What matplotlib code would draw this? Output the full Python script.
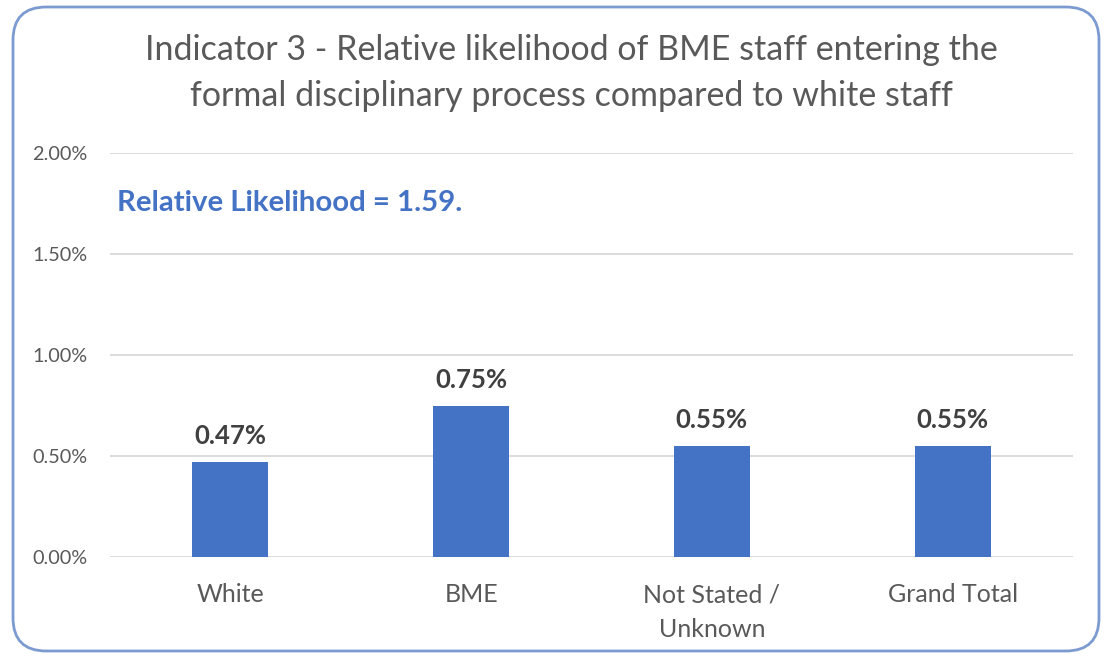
import matplotlib
matplotlib.use("Agg")
import matplotlib.pyplot as plt
from matplotlib.patches import FancyBboxPatch
from matplotlib.ticker import FuncFormatter

categories = ["White", "BME", "Not Stated /\nUnknown", "Grand Total"]
rates_pct = [0.47, 0.75, 0.55, 0.55]
y_ticks = [0.0, 0.5, 1.0, 1.5, 2.0]
title = ("Indicator 3 - Relative likelihood of BME staff entering the\n"
         "formal disciplinary process compared to white staff")
note = "Relative Likelihood = 1.59."

plt.rcParams["font.family"] = ["Lato", "DejaVu Sans"]

W, H = 1107, 659
fig = plt.figure(figsize=(W / 100, H / 100), dpi=100)
fig.patch.set_facecolor("white")

# rounded outer frame
frame = FancyBboxPatch((13 / W, 8 / H), (1099 - 13) / W, (652 - 8) / H,
                       boxstyle="round,pad=0,rounding_size=0.03",
                       transform=fig.transFigure, facecolor="none",
                       edgecolor="#7b9bd1", linewidth=2, mutation_aspect=W / H,
                       zorder=-1)
fig.patches.append(frame)

ax = fig.add_axes([110 / W, (H - 557) / H, (1073 - 110) / W, (557 - 153) / H])
ax.set_facecolor("none")

x = range(len(categories))
ax.bar(x, rates_pct, width=0.315, color="#4472C4", zorder=3)
for xi, v in zip(x, rates_pct):
    ax.annotate(f"{v:.2f}%", (xi, v), xytext=(0, 10), textcoords="offset points",
                ha="center", va="bottom", fontsize=18.5, fontweight="bold",
                color="#404040")

ax.set_xlim(-0.5, len(categories) - 0.5)
ax.set_ylim(0, 2.0)
ax.set_yticks(y_ticks)
ax.yaxis.set_major_formatter(FuncFormatter(lambda v, _: f"{v:.2f}%"))
ax.set_xticks(list(x))
ax.set_xticklabels(categories, fontsize=18, color="#595959", linespacing=1.6)
ax.tick_params(axis="y", length=0, pad=16, labelsize=14.3, labelcolor="#595959")
ax.tick_params(axis="x", length=0, pad=19)
ax.grid(axis="y", color="#d9d9d9", linewidth=1.3, zorder=0)
for s in ax.spines.values():
    s.set_visible(False)

fig.text(571 / W, 1 - 73 / H, title, ha="center", va="center", fontsize=24.5,
         color="#595959", linespacing=1.55)
fig.text(117 / W, 1 - 203 / H, note, ha="left", va="center", fontsize=21.2,
         fontweight="bold", color="#4472C4")

fig.savefig("out.png", dpi=100, facecolor="white")
